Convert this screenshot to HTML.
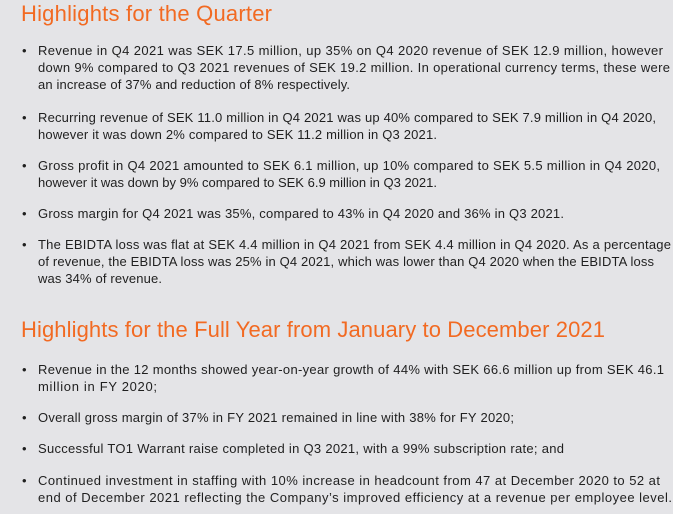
<!DOCTYPE html>
<html><head><style>
body{margin:0;width:673px;height:514px;background:#e4e4e7;overflow:hidden}
svg{display:block}
text{font-family:"Liberation Sans",sans-serif}
.h{fill:#f26a22;font-size:22px}
.l{fill:#1f1f1f;font-size:13px}
</style></head><body>
<svg width="673" height="514">
<text class="h" x="21" y="21" textLength="251" lengthAdjust="spacing">Highlights for the Quarter</text>
<g class="l">
<text x="22" y="55">•</text>
<text x="38" y="55" textLength="625" lengthAdjust="spacing">Revenue in Q4 2021 was SEK 17.5 million, up 35% on Q4 2020 revenue of SEK 12.9 million, however</text>
<text x="38" y="72" textLength="632" lengthAdjust="spacing">down 9% compared to Q3 2021 revenues of SEK 19.2 million.  In operational currency terms, these were</text>
<text x="38" y="89" textLength="312" lengthAdjust="spacing">an increase of 37% and reduction of 8% respectively.</text>
<text x="22" y="122">•</text>
<text x="38" y="122" textLength="618" lengthAdjust="spacing">Recurring revenue of SEK 11.0 million in Q4 2021 was up 40% compared to SEK 7.9 million in Q4 2020,</text>
<text x="38" y="139" textLength="399" lengthAdjust="spacing">however it was down 2% compared to SEK 11.2 million in Q3 2021.</text>
<text x="22" y="170">•</text>
<text x="38" y="170" textLength="622" lengthAdjust="spacing">Gross profit in Q4 2021 amounted to SEK 6.1 million, up 10% compared to SEK 5.5 million in Q4 2020,</text>
<text x="38" y="187" textLength="399" lengthAdjust="spacing">however it was down by 9% compared to SEK 6.9 million in Q3 2021.</text>
<text x="22" y="218">•</text>
<text x="38" y="218" textLength="526" lengthAdjust="spacing">Gross margin for Q4 2021 was 35%, compared to 43% in Q4 2020 and 36% in Q3 2021.</text>
<text x="22" y="249">•</text>
<text x="38" y="249" textLength="633" lengthAdjust="spacing">The EBIDTA loss was flat at SEK 4.4 million in Q4 2021 from SEK 4.4 million in Q4 2020.  As a percentage</text>
<text x="38" y="266" textLength="616" lengthAdjust="spacing">of revenue, the EBIDTA loss was 25% in Q4 2021, which was lower than Q4 2020 when the EBIDTA loss</text>
<text x="38" y="283" textLength="124" lengthAdjust="spacing">was 34% of revenue.</text>
</g>
<text class="h" x="21" y="337" textLength="584" lengthAdjust="spacing">Highlights for the Full Year from January to December 2021</text>
<g class="l">
<text x="22" y="374">•</text>
<text x="38" y="374" textLength="626" lengthAdjust="spacing">Revenue in the 12 months showed year-on-year growth of 44% with SEK 66.6 million up from SEK 46.1</text>
<text x="38" y="391" textLength="119" lengthAdjust="spacing">million in FY 2020;</text>
<text x="22" y="422">•</text>
<text x="38" y="422" textLength="476" lengthAdjust="spacing">Overall gross margin of 37% in FY 2021 remained in line with 38% for FY 2020;</text>
<text x="22" y="453">•</text>
<text x="38" y="453" textLength="526" lengthAdjust="spacing">Successful TO1 Warrant raise completed in Q3 2021, with a 99% subscription rate; and</text>
<text x="22" y="485">•</text>
<text x="38" y="485" textLength="622" lengthAdjust="spacing">Continued investment in staffing with 10% increase in headcount from 47 at December 2020 to 52 at</text>
<text x="38" y="502" textLength="634" lengthAdjust="spacing">end of December 2021 reflecting the Company’s improved efficiency at a revenue per employee level.</text>
</g>
</svg>
</body></html>
